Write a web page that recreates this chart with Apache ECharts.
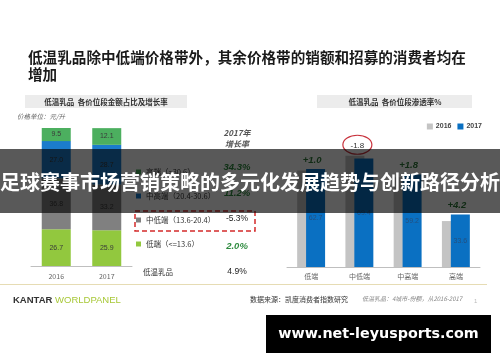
<!DOCTYPE html>
<html>
<head>
<meta charset="utf-8">
<script src="https://cdn.jsdelivr.net/npm/echarts@6/dist/echarts.min.js"></script>
<style>
html,body{margin:0;padding:0;background:#ffffff;}
#chart{width:500px;height:362px;}
</style>
</head>
<body>
<div id="chart"></div>
<script>
// ---- data ----
const titleLine1 = '低温乳品除中低端价格带外，其余价格带的销额和招募的消费者均在';
const titleLine2 = '增加';
const leftSubtitle = '低温乳品  各价位段金额占比及增长率';
const rightSubtitle = '低温乳品  各价位段渗透率%';
const unitNote = '价格单位：元/升';

const years = ['2016', '2017'];
const segNames = ['低端（<=13.6）', '中低端（13.6-20.4）', '中高端（20.4-30.6）', '高端（>30.6）'];
const segLow = [26.7, 25.9];
const segMidLow = [36.8, 33.2];
const segMidHigh = [27.0, 28.7];
const segHigh = [9.5, 12.1];
const growthHeader = ['2017年', '增长率'];
const growthRates = ['34.3%', '11.2%', '-5.3%', '2.0%']; // 高端, 中高端, 中低端, 低端
const totalName = '低温乳品';
const totalGrowth = '4.9%';

const bandCats = ['低端', '中低端', '中高端', '高端'];
const pen2016 = [61.7, 71.2, 57.4, 29.4];
const pen2017 = [62.7, 69.4, 59.2, 33.6];
const penChange = ['+1.0', '-1.8', '+1.8', '+4.2'];

const bannerText = '足球赛事市场营销策略的多元化发展趋势与创新路径分析';
const siteText = 'www.net-leyusports.com';
const sourceText = '数据来源：凯度消费者指数研究';
const sourceNote = '低温乳品：4城市-份额，从2016-2017';

// ---- styles ----
const CJK = "'Noto Sans CJK SC', 'Noto Sans', sans-serif";
const segColors = ['#92c83e', '#808080', '#1b7ccc', '#4caf5f'];
const green = '#2e8b3f';

const chart = echarts.init(document.getElementById('chart'), null, {renderer: 'canvas'});

const segData = [segLow, segMidLow, segMidHigh, segHigh];
const leftSeries = segNames.map((n, k) => ({
  name: n, type: 'bar', stack: 'share', xAxisIndex: 0, yAxisIndex: 0,
  barWidth: 29, data: segData[k],
  itemStyle: {color: segColors[k]},
  label: {show: true, position: 'inside', fontSize: 7, color: '#3a3a3a', fontFamily: 'Arial, sans-serif',
          formatter: p => p.value.toFixed(1)}
}));

const growthTexts = [];
const growthY = [167, 193, 219, 246];
growthRates.forEach((g, i) => {
  const neg = g.startsWith('-');
  growthTexts.push({type: 'text', x: 237, y: growthY[i], z: 10,
    style: {text: g, align: 'center', verticalAlign: 'middle', fill: neg ? '#222' : green,
      fontSize: neg ? 8.5 : 9.5, fontWeight: neg ? 'normal' : 'bold', fontStyle: neg ? 'normal' : 'italic',
      fontFamily: 'Arial, sans-serif'}});
});

const option = {
  backgroundColor: '#ffffff',
  textStyle: {fontFamily: CJK},
  animation: false,
  grid: [
    {left: 31, right: 368, top: 128, bottom: 96},
    {left: 287, right: 20, top: 142, bottom: 95}
  ],
  xAxis: [
    {type: 'category', gridIndex: 0, data: years,
     axisLine: {lineStyle: {color: '#bfbfbf'}}, axisTick: {length: 3, lineStyle: {color: '#bfbfbf'}},
     axisLabel: {fontSize: 7, color: '#666', margin: 7}},
    {type: 'category', gridIndex: 1, data: bandCats,
     axisLine: {lineStyle: {color: '#bfbfbf'}}, axisTick: {length: 3, lineStyle: {color: '#bfbfbf'}},
     axisLabel: {fontSize: 7, color: '#666', margin: 6}}
  ],
  yAxis: [
    {type: 'value', gridIndex: 0, min: 0, max: 100, show: false},
    {type: 'value', gridIndex: 1, min: 0, max: 80, show: false}
  ],
  legend: [
    {data: segNames.slice().reverse(), orient: 'vertical', left: 136, top: 167, padding: 0,
     itemGap: 14, itemWidth: 5, itemHeight: 5, icon: 'rect', selectedMode: false,
     textStyle: {fontSize: 7.5, color: '#333', lineHeight: 10, fontFamily: CJK}},
    {data: ['2016', '2017'], orient: 'horizontal', right: 18, top: 123, padding: 0,
     itemGap: 6, itemWidth: 6, itemHeight: 6, icon: 'rect', selectedMode: false,
     textStyle: {fontSize: 7, color: '#444', fontWeight: 'bold', fontFamily: 'Arial, sans-serif', padding: [0, 0, 0, -2]}}
  ],
  series: leftSeries.concat([
    {name: '2016', type: 'bar', xAxisIndex: 1, yAxisIndex: 1, barWidth: 19, barGap: '-53%',
     data: pen2016, itemStyle: {color: '#c4c4c4'}, z: 2},
    {name: '2017', type: 'bar', xAxisIndex: 1, yAxisIndex: 1, barWidth: 19,
     data: pen2017, itemStyle: {color: '#0a70c2'}, z: 3,
     label: {show: true, position: 'inside', fontSize: 7, color: '#24507f', fontFamily: 'Arial, sans-serif',
             formatter: p => p.value.toFixed(1)}},
    {name: 'change', type: 'custom', xAxisIndex: 1, yAxisIndex: 1, z: 5,
     data: bandCats.map((c, i) => [i, Math.max(pen2016[i], pen2017[i])]),
     encode: {x: 0, y: 1},
     renderItem: function (params, api) {
       const p = api.coord([api.value(0), api.value(1)]);
       const i = params.dataIndex;
       const txt = penChange[i];
       const neg = txt.startsWith('-');
       if (neg) {
         return {type: 'group', children: [
           {type: 'ellipse', shape: {cx: p[0] - 2, cy: p[1] - 11, rx: 14.5, ry: 9.5},
            style: {fill: 'none', stroke: '#c8323c', lineWidth: 1.2}},
           {type: 'text', x: p[0] - 2, y: p[1] - 10,
            style: {text: txt, align: 'center', verticalAlign: 'middle', fill: '#333',
                    fontSize: 8, fontFamily: 'Arial, sans-serif'}}
         ]};
       }
       return {type: 'text', x: p[0] + 1, y: p[1] - 9,
         style: {text: txt, align: 'center', verticalAlign: 'middle', fill: '#2f7a3a',
                 fontSize: 9.5, fontWeight: 'bold', fontStyle: 'italic', fontFamily: 'Arial, sans-serif'}};
     }}
  ]),
  graphic: [
    {type: 'text', x: 28, y: 57, style: {text: titleLine1, fontSize: 14.6, fontWeight: 'bold', fill: '#1a1a1a',
      fontFamily: CJK, verticalAlign: 'middle'}},
    {type: 'text', x: 28, y: 74, style: {text: titleLine2, fontSize: 14.6, fontWeight: 'bold', fill: '#1a1a1a',
      fontFamily: CJK, verticalAlign: 'middle'}},
    {type: 'rect', shape: {x: 25, y: 95, width: 162, height: 13}, style: {fill: '#ececec'}},
    {type: 'text', x: 106, y: 102, style: {text: leftSubtitle, fontSize: 7.5, fontWeight: 'bold', fill: '#333',
      align: 'center', verticalAlign: 'middle', fontFamily: CJK}},
    {type: 'rect', shape: {x: 317, y: 95, width: 155, height: 13}, style: {fill: '#ececec'}},
    {type: 'text', x: 395, y: 102, style: {text: rightSubtitle, fontSize: 7.5, fontWeight: 'bold', fill: '#333',
      align: 'center', verticalAlign: 'middle', fontFamily: CJK}},
    {type: 'text', x: 17, y: 117, style: {text: unitNote, fontSize: 6.5, fontStyle: 'italic', fill: '#666',
      verticalAlign: 'middle', fontFamily: CJK}},
    {type: 'text', x: 237, y: 133, style: {text: growthHeader[0], fontSize: 8, fontStyle: 'italic', fontWeight: 'bold',
      fill: '#555', align: 'center', verticalAlign: 'middle', fontFamily: CJK}},
    {type: 'text', x: 237, y: 144, style: {text: growthHeader[1], fontSize: 8, fontStyle: 'italic', fontWeight: 'bold',
      fill: '#555', align: 'center', verticalAlign: 'middle', fontFamily: CJK}},
    ...growthTexts,
    {type: 'rect', shape: {x: 135, y: 211, width: 120, height: 20},
     style: {fill: 'none', stroke: '#d42a2a', lineWidth: 1.5, lineDash: [5, 3]}},
    {type: 'text', x: 143, y: 272, style: {text: totalName, fontSize: 7.5, fill: '#333', verticalAlign: 'middle', fontFamily: CJK}},
    {type: 'text', x: 237, y: 272, style: {text: totalGrowth, fontSize: 8.5, fill: '#222', align: 'center',
      verticalAlign: 'middle', fontFamily: 'Arial, sans-serif'}},
    {type: 'line', shape: {x1: 0, y1: 284.5, x2: 487, y2: 284.5}, style: {stroke: '#e6dcb4', lineWidth: 1}},
    {type: 'text', x: 13, y: 300, style: {
      text: '{a|KANTAR }{b|WORLDPANEL}', verticalAlign: 'middle',
      rich: {a: {fontSize: 9.5, fontWeight: 'bold', fill: '#333', fontFamily: 'Arial, sans-serif'},
             b: {fontSize: 9.5, fill: '#a8c838', fontFamily: 'Arial, sans-serif'}}}},
    {type: 'text', x: 250, y: 299, style: {text: sourceText, fontSize: 7, fill: '#333', verticalAlign: 'middle', fontFamily: CJK}},
    {type: 'text', x: 362, y: 299, style: {text: sourceNote, fontSize: 6, fontStyle: 'italic', fill: '#888', verticalAlign: 'middle', fontFamily: CJK}},
    {type: 'text', x: 474, y: 301, style: {text: '1', fontSize: 6, fill: '#bbb', verticalAlign: 'middle', fontFamily: 'Arial, sans-serif'}},
    // overlay banner
    {type: 'rect', z: 100, shape: {x: 0, y: 149, width: 500, height: 64}, style: {fill: 'rgba(0,0,0,0.65)'}},
    {type: 'text', z: 101, x: 250, y: 182, style: {text: bannerText, fontSize: 20, fontWeight: 'bold', fill: '#ffffff',
      align: 'center', verticalAlign: 'middle', fontFamily: CJK}},
    // site badge
    {type: 'rect', z: 100, shape: {x: 266, y: 315, width: 225, height: 38}, style: {fill: '#000000'}},
    {type: 'text', z: 101, x: 378.5, y: 334, style: {text: siteText, fontSize: 14.3, fontWeight: 'bold', fill: '#ffffff',
      align: 'center', verticalAlign: 'middle', fontFamily: "'DejaVu Sans', sans-serif"}}
  ]
};
chart.setOption(option);
</script>
</body>
</html>
